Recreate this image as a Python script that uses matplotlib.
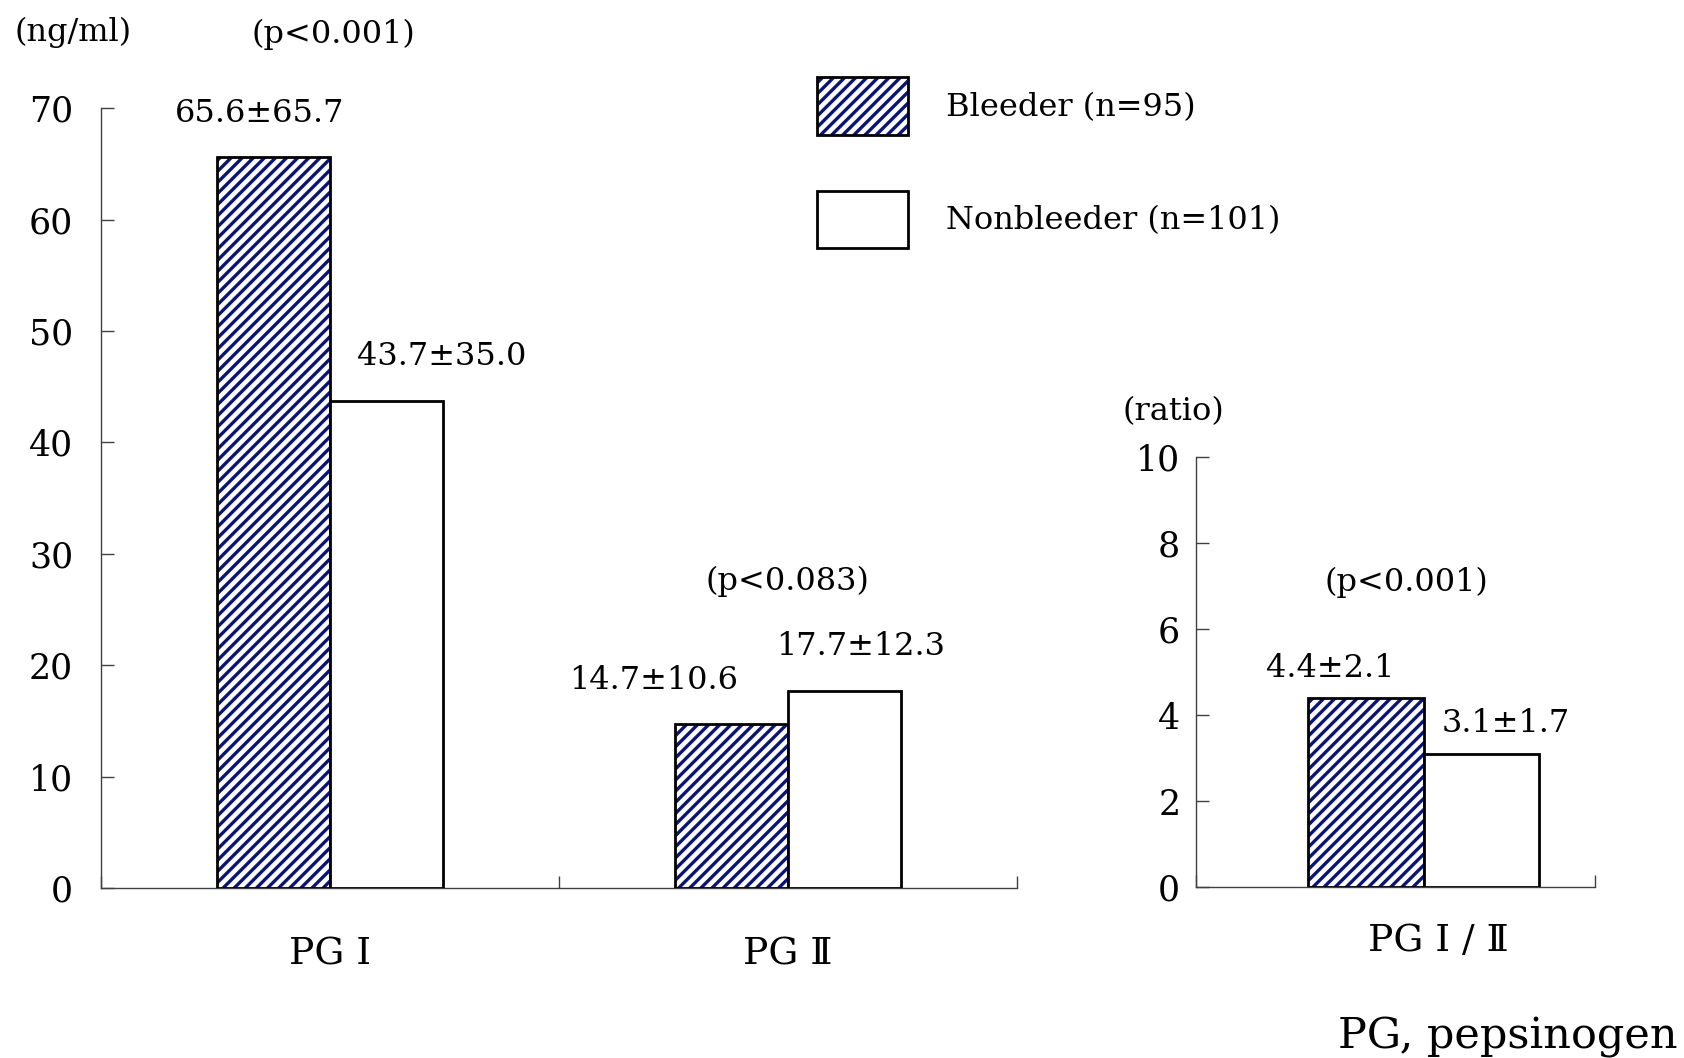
import matplotlib.pyplot as plt
from matplotlib.patches import Patch

plt.rcParams['font.family'] = ['DejaVu Serif', 'Liberation Serif', 'Noto Sans CJK JP']
plt.rcParams['hatch.linewidth'] = 2.4

navy = '#0a1478'

# data
groups = ['PG Ⅰ', 'PG Ⅱ']
bleeder = [65.6, 14.7]
nonbleeder = [43.7, 17.7]
bleeder_sd = ['65.6±65.7', '14.7±10.6']
nonbleeder_sd = ['43.7±35.0', '17.7±12.3']
p_left = ['(p<0.001)', '(p<0.083)']

ratio_group = ['PG Ⅰ / Ⅱ']
ratio_bleeder = [4.4]
ratio_nonbleeder = [3.1]
ratio_bleeder_sd = ['4.4±2.1']
ratio_nonbleeder_sd = ['3.1±1.7']
p_right = ['(p<0.001)']

fig = plt.figure(figsize=(16.84, 10.58), dpi=100)
ax1 = fig.add_axes([0.060, 0.1607, 0.544, 0.737])
ax2 = fig.add_axes([0.710, 0.1616, 0.237, 0.406])

w = 0.247
fs = 23
hatch = '///'


def hatched_bars(ax, x, h, width):
    ax.bar(x, h, width, color='white', edgecolor=navy, hatch=hatch, lw=0, zorder=2)
    ax.bar(x, h, width, fill=False, edgecolor='black', lw=2, zorder=3)


def style(ax, pad_y, pad_x):
    for s in ['top', 'right']:
        ax.spines[s].set_visible(False)
    for s in ['left', 'bottom']:
        ax.spines[s].set_color('#404040')
        ax.spines[s].set_linewidth(1.0)
    ax.tick_params(axis='y', direction='in', length=9, width=1, color='#404040',
                   labelsize=25, pad=pad_y)
    ax.tick_params(axis='x', which='major', length=0, labelsize=27, pad=pad_x)
    ax.tick_params(axis='x', which='minor', direction='in', length=9, width=1,
                   color='#404040')


# left panel
xs = list(range(len(groups)))
hatched_bars(ax1, [x - w / 2 for x in xs], bleeder, w)
ax1.bar([x + w / 2 for x in xs], nonbleeder, w, color='white', edgecolor='black',
        lw=2, zorder=3)
ax1.set_xlim(-0.5, 1.5)
ax1.set_ylim(0, 70)
ax1.set_yticks(range(0, 71, 10))
ax1.set_xticks(xs)
ax1.set_xticklabels(groups)
ax1.set_xticks([-0.5, 0.5, 1.5], minor=True)
style(ax1, 20, 35)

dx_b = [-0.03, -0.17]
dx_n = [0.12, 0.035]
for i, x in enumerate(xs):
    ax1.text(x - w / 2 + dx_b[i], bleeder[i] + 3.95, bleeder_sd[i], ha='center',
             va='center', fontsize=fs)
    ax1.text(x + w / 2 + dx_n[i], nonbleeder[i] + 4.0, nonbleeder_sd[i], ha='center',
             va='center', fontsize=fs)
ax1.text(0.007, 76.6, p_left[0], ha='center', va='center', fontsize=fs, clip_on=False)
ax1.text(0.998, 27.5, p_left[1], ha='center', va='center', fontsize=fs)
ax1.text(-0.561, 76.8, '(ng/ml)', ha='center', va='center', fontsize=fs, clip_on=False)

# right panel
hatched_bars(ax2, [-0.145], ratio_bleeder, 0.29)
ax2.bar([0.145], ratio_nonbleeder, 0.29, color='white', edgecolor='black', lw=2,
        zorder=3)
ax2.set_xlim(-0.571, 0.429)
ax2.set_ylim(0, 10)
ax2.set_yticks(range(0, 11, 2))
ax2.set_xticks([0.038])
ax2.set_xticklabels(ratio_group)
ax2.set_xticks([-0.571, 0.429], minor=True)
style(ax2, 11, 26)
ax2.text(-0.235, ratio_bleeder[0] + 0.69, ratio_bleeder_sd[0], ha='center', va='center',
         fontsize=fs)
ax2.text(0.206, ratio_nonbleeder[0] + 0.71, ratio_nonbleeder_sd[0], ha='center',
         va='center', fontsize=fs)
ax2.text(-0.042, 7.09, p_right[0], ha='center', va='center', fontsize=fs)
ax2.text(-0.626, 11.07, '(ratio)', ha='center', va='center', fontsize=fs, clip_on=False)

# legend
h_b = (Patch(facecolor='white', edgecolor=navy, hatch=hatch, lw=0),
       Patch(fill=False, edgecolor='black', lw=2))
h_n = Patch(facecolor='white', edgecolor='black', lw=2)
fig.legend([h_b, h_n], ['Bleeder (n=95)', 'Nonbleeder (n=101)'],
           loc='upper left', bbox_to_anchor=(0.485, 0.927), frameon=False,
           fontsize=fs, handlelength=2.85, handleheight=2.4, labelspacing=1.75,
           handletextpad=1.2, borderpad=0, borderaxespad=0)

fig.text(0.9965, 0.020, 'PG, pepsinogen', ha='right', va='center', fontsize=31)

fig.savefig('out.png', dpi=100)
